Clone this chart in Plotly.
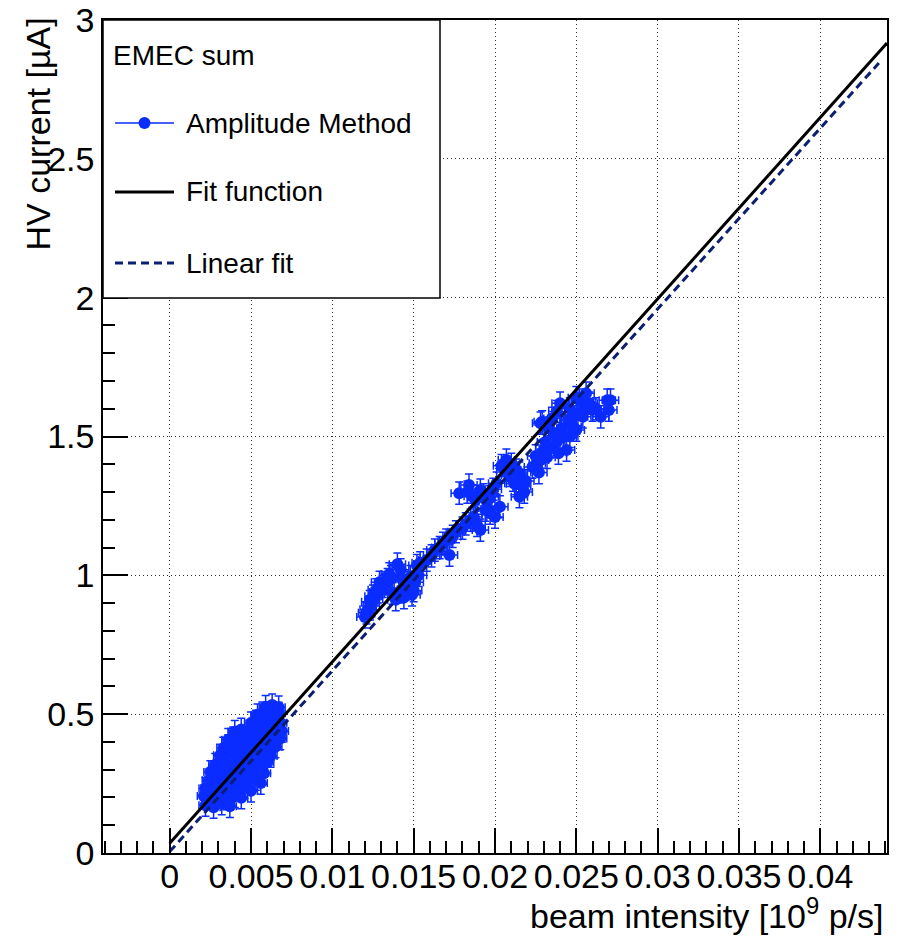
import plotly.graph_objects as go

# ---------------- data ----------------
# cluster near 0.002 - 0.007 x 10^9 p/s
c1_x = [0.0022, 0.0027, 0.0032, 0.0037,
        0.0021, 0.0025, 0.0030, 0.0035, 0.0040, 0.0044,
        0.0022, 0.0026, 0.0031, 0.0036, 0.0041, 0.0046, 0.0050,
        0.0024, 0.0028, 0.0033, 0.0038, 0.0043, 0.0048, 0.0053, 0.0056,
        0.0025, 0.0030, 0.0034, 0.0039, 0.0044, 0.0049, 0.0054, 0.0058,
        0.0028, 0.0031, 0.0036, 0.0041, 0.0046, 0.0051, 0.0056, 0.0060,
        0.0031, 0.0034, 0.0039, 0.0044, 0.0049, 0.0054, 0.0059, 0.0062,
        0.0033, 0.0036, 0.0041, 0.0046, 0.0051, 0.0056, 0.0061, 0.0065,
        0.0036, 0.0039, 0.0044, 0.0049, 0.0054, 0.0059, 0.0064, 0.0068,
        0.0040, 0.0044, 0.0049, 0.0054, 0.0059, 0.0064, 0.0069,
        0.0050, 0.0053, 0.0058, 0.0063, 0.0068,
        0.0054, 0.0057, 0.0062, 0.0067,
        0.0059, 0.0063, 0.0067]
c1_y = [0.172, 0.165, 0.178, 0.168,
        0.205, 0.198, 0.210, 0.196, 0.204, 0.199,
        0.232, 0.238, 0.226, 0.235, 0.229, 0.236, 0.224,
        0.262, 0.255, 0.268, 0.259, 0.264, 0.257, 0.266, 0.252,
        0.292, 0.286, 0.297, 0.288, 0.295, 0.284, 0.293, 0.287,
        0.318, 0.325, 0.316, 0.327, 0.319, 0.323, 0.315, 0.326,
        0.352, 0.345, 0.357, 0.348, 0.355, 0.346, 0.354, 0.349,
        0.377, 0.386, 0.379, 0.384, 0.375, 0.387, 0.378, 0.383,
        0.408, 0.414, 0.405, 0.416, 0.409, 0.413, 0.406, 0.412,
        0.437, 0.445, 0.438, 0.446, 0.436, 0.443, 0.439,
        0.468, 0.474, 0.466, 0.475, 0.469,
        0.497, 0.504, 0.498, 0.503,
        0.527, 0.533, 0.525]

# cluster near 0.012 - 0.015
c2_x = [0.0120, 0.0122, 0.0123, 0.0125, 0.0127, 0.0129, 0.0133, 0.0135,
        0.0139, 0.0140, 0.0142, 0.0145, 0.0146, 0.0148, 0.0149, 0.0151,
        0.0152, 0.0154, 0.0137, 0.0121, 0.0124, 0.0126, 0.0128, 0.0131,
        0.0134, 0.0136, 0.0143, 0.0147, 0.0150, 0.0144, 0.0141, 0.0153]
c2_y = [0.850, 0.878, 0.905, 0.925, 0.948, 0.975, 0.972, 1.005,
        0.912, 1.040, 1.020, 0.950, 0.960, 0.995, 0.930, 0.975,
        1.035, 1.045, 0.936, 0.865, 0.890, 0.915, 0.940, 0.960,
        0.985, 0.995, 0.985, 0.975, 0.945, 0.920, 0.940, 1.000]

# cluster near 0.016 - 0.027
c3_x = [0.0163, 0.0166, 0.0172, 0.0170, 0.0176, 0.0180, 0.0178, 0.0184,
        0.0185, 0.0188, 0.0191, 0.0191, 0.0197, 0.0197, 0.0201, 0.0203,
        0.0206, 0.0207, 0.0211, 0.0213, 0.0215, 0.0217, 0.0215, 0.0226,
        0.0228, 0.0229, 0.0230, 0.0229, 0.0228, 0.0234, 0.0236, 0.0240,
        0.0242, 0.0244, 0.0248, 0.0248, 0.0250, 0.0252, 0.0254, 0.0256,
        0.0260, 0.0265, 0.0269, 0.0271, 0.0270,
        0.0158, 0.0161, 0.0168, 0.0174, 0.0182, 0.0187, 0.0183, 0.0186,
        0.0193, 0.0195, 0.0199, 0.0194, 0.0200, 0.0189, 0.0204, 0.0209,
        0.0212, 0.0210, 0.0214, 0.0218, 0.0219, 0.0223, 0.0225, 0.0231,
        0.0233, 0.0235, 0.0238, 0.0232, 0.0238, 0.0241, 0.0245, 0.0246,
        0.0250, 0.0251, 0.0255, 0.0258, 0.0262, 0.0246, 0.0239, 0.0227]
c3_y = [1.091, 1.100, 1.073, 1.127, 1.157, 1.170, 1.296, 1.325,
        1.199, 1.271, 1.163, 1.307, 1.283, 1.224, 1.332, 1.247,
        1.379, 1.415, 1.343, 1.379, 1.368, 1.319, 1.283, 1.404,
        1.415, 1.426, 1.451, 1.553, 1.548, 1.463, 1.512, 1.620,
        1.499, 1.451, 1.571, 1.535, 1.523, 1.631, 1.571, 1.656,
        1.595, 1.571, 1.631, 1.631, 1.595,
        1.055, 1.070, 1.115, 1.140, 1.185, 1.210, 1.300, 1.285,
        1.290, 1.265, 1.310, 1.235, 1.210, 1.180, 1.395, 1.360,
        1.330, 1.400, 1.350, 1.300, 1.340, 1.390, 1.430, 1.480,
        1.530, 1.565, 1.590, 1.425, 1.480, 1.530, 1.560, 1.600,
        1.640, 1.580, 1.600, 1.620, 1.600, 1.500, 1.440, 1.370]

x_err_c1, y_err_c1 = 0.0004, 0.040
x_err_c23, y_err_c23 = 0.0005, 0.040

# fit curves (end points)
fit_x = [0.0, 0.0441]
fit_y = [0.035, 2.917]
lin_x = [0.0, 0.0436]
lin_y = [0.005, 2.845]

x_tick_vals = [0, 0.005, 0.01, 0.015, 0.02, 0.025, 0.03, 0.035, 0.04]
x_tick_text = ["0", "0.005", "0.01", "0.015", "0.02", "0.025", "0.03", "0.035", "0.04"]
y_tick_vals = [0, 0.5, 1, 1.5, 2, 2.5, 3]
y_tick_text = ["0", "0.5", "1", "1.5", "2", "2.5", "3"]

# ---------------- styling ----------------
BLUE = "#0a2cff"
NAVY = "#0c1f73"
FONT = "Liberation Sans"

data_x = c1_x + c2_x + c3_x
data_y = c1_y + c2_y + c3_y
ex = [x_err_c1] * len(c1_x) + [x_err_c23] * (len(c2_x) + len(c3_x))
ey = [y_err_c1] * len(c1_y) + [y_err_c23] * (len(c2_y) + len(c3_y))

fig = go.Figure()
fig.add_trace(go.Scatter(
    x=data_x, y=data_y, mode="markers", name="Amplitude Method",
    marker=dict(color=BLUE, size=12, line=dict(width=0)),
    error_x=dict(type="data", array=ex, color=BLUE, thickness=1.5, width=4),
    error_y=dict(type="data", array=ey, color=BLUE, thickness=1.5, width=4),
    showlegend=False))
fig.add_trace(go.Scatter(
    x=lin_x, y=lin_y, mode="lines", name="Linear fit",
    line=dict(color=NAVY, width=3, dash="8px,5px"), showlegend=False))
fig.add_trace(go.Scatter(
    x=fit_x, y=fit_y, mode="lines", name="Fit function",
    line=dict(color="black", width=3), showlegend=False))

# plot-area geometry in pixels
W, H = 899, 936
L, R, T, B = 103, 12, 20, 83
PW, PH = W - L - R, H - T - B


def px(xp):
    return (xp - L) / PW


def py(yp):
    return (H - B - yp) / PH


axis_common = dict(
    showline=True, linecolor="black", linewidth=1.5, mirror=True,
    ticks="inside", ticklen=25, tickwidth=1.5, tickcolor="black",
    showgrid=True, gridcolor="#333333", gridwidth=1, griddash="1px,3px",
    zeroline=False, automargin=False,
    tickfont=dict(family=FONT, size=34, color="black"),
)

fig.update_xaxes(
    range=[-0.0041, 0.0441], tickmode="array",
    tickvals=x_tick_vals, ticktext=x_tick_text, ticklabelstandoff=-8,
    minor=dict(ticks="inside", ticklen=12, tickwidth=1.5, tickcolor="black",
               dtick=0.001, tick0=0, showgrid=False),
    **axis_common)
fig.update_yaxes(
    range=[0, 3], tickmode="array",
    tickvals=y_tick_vals, ticktext=y_tick_text,
    minor=dict(ticks="inside", ticklen=12, tickwidth=1.5, tickcolor="black",
               dtick=0.1, tick0=0, showgrid=False),
    **axis_common)

# legend box (opaque) and entries
shapes = [
    dict(type="rect", xref="paper", yref="paper", x0=0, x1=px(440), y0=py(298), y1=1,
         fillcolor="white", line=dict(color="black", width=1.5), layer="above"),
    dict(type="line", xref="paper", yref="paper", x0=px(115), x1=px(174), y0=py(123), y1=py(123),
         line=dict(color=BLUE, width=1.5), layer="above"),
    dict(type="circle", xref="paper", yref="paper", xsizemode="pixel", ysizemode="pixel",
         xanchor=px(144.5), yanchor=py(123), x0=-6, x1=6, y0=-6, y1=6,
         fillcolor=BLUE, line=dict(width=0), layer="above"),
    dict(type="line", xref="paper", yref="paper", x0=px(115), x1=px(174), y0=py(192), y1=py(192),
         line=dict(color="black", width=3), layer="above"),
    dict(type="line", xref="paper", yref="paper", x0=px(115), x1=px(174), y0=py(263), y1=py(263),
         line=dict(color=NAVY, width=3, dash="8px,5px"), layer="above"),
]

lfont = dict(family=FONT, size=28, color="black")
annotations = [
    dict(text="EMEC sum", xref="paper", yref="paper", x=px(111), y=py(56),
         xanchor="left", yanchor="middle", showarrow=False, font=lfont),
    dict(text="Amplitude Method", xref="paper", yref="paper", x=px(184), y=py(123),
         xanchor="left", yanchor="middle", showarrow=False, font=lfont),
    dict(text="Fit function", xref="paper", yref="paper", x=px(184), y=py(192),
         xanchor="left", yanchor="middle", showarrow=False, font=lfont),
    dict(text="Linear fit", xref="paper", yref="paper", x=px(184), y=py(263),
         xanchor="left", yanchor="middle", showarrow=False, font=lfont),
    dict(text="beam intensity [10<sup>9</sup> p/s]", xref="paper", yref="paper",
         x=px(885), y=py(913), xanchor="right", yanchor="middle", showarrow=False,
         font=dict(family=FONT, size=34, color="black")),
    dict(text="HV current [µA]", xref="paper", yref="paper", textangle=-90,
         x=px(38), y=py(16), xanchor="center", yanchor="top", showarrow=False,
         font=dict(family=FONT, size=34, color="black")),
]

fig.update_layout(
    width=W, height=H,
    margin=dict(l=L, r=R, t=T, b=B, pad=0, autoexpand=False),
    paper_bgcolor="white", plot_bgcolor="white",
    shapes=shapes, annotations=annotations,
    showlegend=False,
    font=dict(family=FONT, color="black"),
)

fig.write_html("out.html")
